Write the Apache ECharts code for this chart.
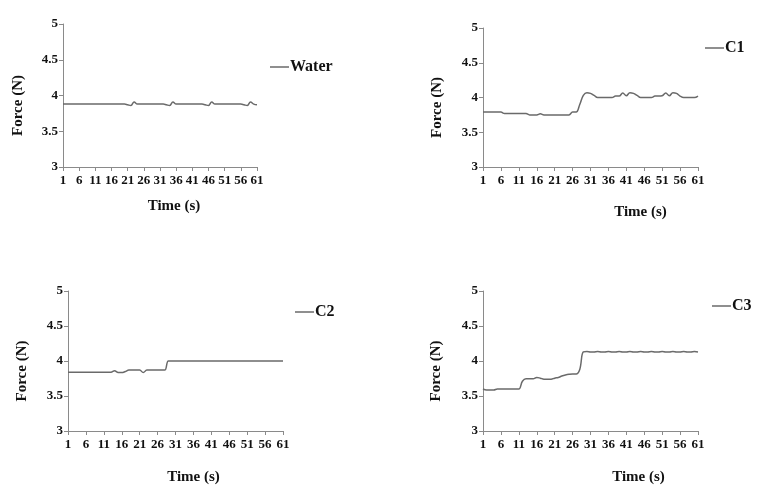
<!DOCTYPE html>
<html>
<head>
<meta charset="utf-8">
<script src="https://cdn.jsdelivr.net/npm/echarts@6/dist/echarts.min.js"></script>
<style>
html,body{margin:0;padding:0;background:#fff;}
#c{width:760px;height:489px;}
</style>
</head>
<body>
<div id="c"></div>
<script>
var categories = ['1','2','3','4','5','6','7','8','9','10','11','12','13','14','15','16','17','18','19','20',
'21','22','23','24','25','26','27','28','29','30','31','32','33','34','35','36','37','38','39','40',
'41','42','43','44','45','46','47','48','49','50','51','52','53','54','55','56','57','58','59','60','61'];
var yTicks = [3, 3.5, 4, 4.5, 5];

var water = [3.88,3.88,3.88,3.88,3.88,3.88,3.88,3.88,3.88,3.88,3.88,3.88,3.88,3.88,3.88,3.88,3.88,3.88,3.88,3.88,
3.87,3.86,3.91,3.88,3.88,3.88,3.88,3.88,3.88,3.88,3.88,3.88,3.87,3.86,3.91,3.88,3.88,3.88,3.88,3.88,
3.88,3.88,3.88,3.88,3.87,3.86,3.91,3.88,3.88,3.88,3.88,3.88,3.88,3.88,3.88,3.88,3.87,3.86,3.91,3.88,3.87];

var c1 = [3.79,3.79,3.79,3.79,3.79,3.79,3.77,3.77,3.77,3.77,3.77,3.77,3.77,3.75,3.75,3.75,3.765,3.75,3.75,3.75,
3.75,3.75,3.75,3.75,3.75,3.79,3.79,3.90,4.03,4.07,4.06,4.03,4.00,4.00,4.00,4.00,4.00,4.02,4.02,4.065,
4.025,4.07,4.06,4.03,4.00,4.00,4.00,4.00,4.02,4.02,4.025,4.065,4.025,4.07,4.06,4.02,4.00,4.00,4.00,4.00,4.02];

var c2 = [3.84,3.84,3.84,3.84,3.84,3.84,3.84,3.84,3.84,3.84,3.84,3.84,3.84,3.86,3.835,3.835,3.85,3.87,3.87,3.87,
3.87,3.835,3.87,3.87,3.87,3.87,3.87,3.87,4.00,4.00,4.00,4.00,4.00,4.00,4.00,4.00,4.00,4.00,4.00,4.00,
4.00,4.00,4.00,4.00,4.00,4.00,4.00,4.00,4.00,4.00,4.00,4.00,4.00,4.00,4.00,4.00,4.00,4.00,4.00,4.00,4.00];

var c3 = [3.60,3.585,3.585,3.585,3.60,3.60,3.60,3.60,3.60,3.60,3.60,3.71,3.745,3.745,3.745,3.765,3.755,3.74,3.74,3.74,
3.755,3.765,3.785,3.80,3.81,3.815,3.815,3.88,4.13,4.135,4.13,4.13,4.135,4.13,4.13,4.135,4.13,4.13,4.135,4.13,
4.13,4.135,4.13,4.13,4.135,4.13,4.13,4.135,4.13,4.13,4.135,4.13,4.13,4.135,4.13,4.13,4.135,4.13,4.13,4.135,4.13];

var seriesNames = ['Water', 'C1', 'C2', 'C3'];
var seriesData = [water, c1, c2, c3];

var FONT = '"Liberation Serif", "Times New Roman", serif';
var LINE = '#6a6a6a';
var AXIS = '#8a8a8a';

var grids = [
  {left: 63, top: 24, width: 194, height: 143},
  {left: 483, top: 28, width: 215, height: 139},
  {left: 68, top: 291, width: 215, height: 140},
  {left: 483, top: 291, width: 215, height: 140}
];
var legendPos = [
  {left: 265, top: 54},
  {left: 700, top: 35},
  {left: 290, top: 299},
  {left: 707, top: 293}
];
var xNameGap = [32, 38, 39, 39];
var xNameShift = [14, 50, 18, 48];
var yNameGap = [37, 38, 38, 39];

var option = {
  backgroundColor: '#fff',
  animation: false,
  grid: grids,
  legend: seriesNames.map(function (n, i) {
    return {
      data: [n],
      left: legendPos[i].left,
      top: legendPos[i].top,
      icon: 'rect',
      itemWidth: 19,
      itemHeight: 1.5,
      textStyle: {fontFamily: FONT, fontWeight: 'bold', fontSize: 16, color: '#111', padding: [0, 0, 0, -4]}
    };
  }),
  xAxis: seriesNames.map(function (n, i) {
    return {
      type: 'category',
      gridIndex: i,
      data: categories,
      boundaryGap: false,
      name: 'Time (s)',
      nameLocation: 'middle',
      nameGap: xNameGap[i],
      nameTextStyle: {fontFamily: FONT, fontWeight: 'bold', fontSize: 15, color: '#111',
        padding: [0, 0, 0, xNameShift[i] * 2]},
      axisLine: {lineStyle: {color: AXIS, width: 1}},
      axisTick: {interval: 4, length: 4, lineStyle: {color: AXIS}},
      axisLabel: {interval: 4, margin: 7, fontFamily: FONT, fontWeight: 'bold', fontSize: 13, color: '#111'},
      splitLine: {show: false}
    };
  }),
  yAxis: seriesNames.map(function (n, i) {
    return {
      type: 'value',
      gridIndex: i,
      min: yTicks[0],
      max: yTicks[yTicks.length - 1],
      interval: 0.5,
      name: 'Force (N)',
      nameLocation: 'middle',
      nameGap: yNameGap[i],
      nameTextStyle: {fontFamily: FONT, fontWeight: 'bold', fontSize: 15, color: '#111',
        padding: [0, 20, 0, 0]},
      axisLine: {show: true, lineStyle: {color: AXIS, width: 1}},
      axisTick: {show: true, length: 4, lineStyle: {color: AXIS}},
      axisLabel: {margin: 5, fontFamily: FONT, fontWeight: 'bold', fontSize: 13, color: '#111'},
      splitLine: {show: false}
    };
  }),
  series: seriesNames.map(function (n, i) {
    return {
      name: n,
      type: 'line',
      xAxisIndex: i,
      yAxisIndex: i,
      data: seriesData[i],
      smooth: 0.4,
      showSymbol: false,
      symbol: 'none',
      color: LINE,
      lineStyle: {color: LINE, width: 1.5}
    };
  })
};

var chart = echarts.init(document.getElementById('c'), null, {renderer: 'canvas'});
chart.setOption(option);
</script>
</body>
</html>
